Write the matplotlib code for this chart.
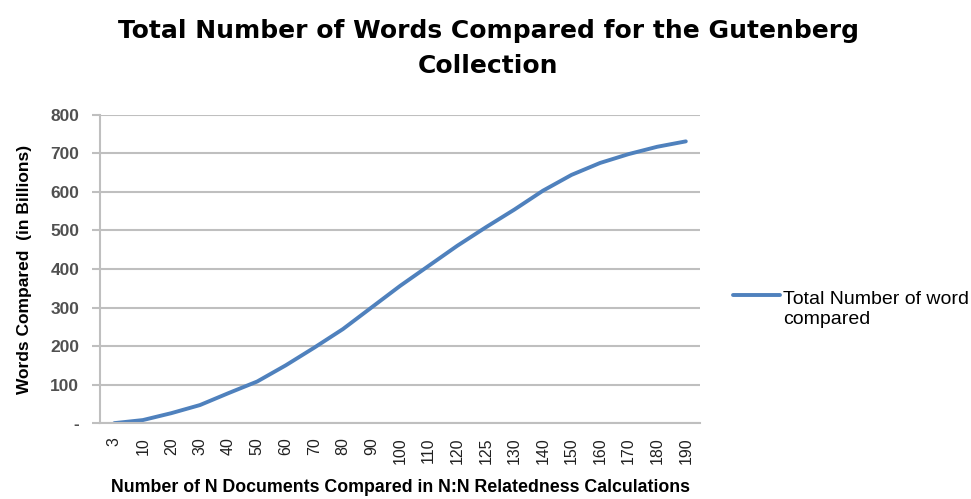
import matplotlib
matplotlib.use("Agg")
import matplotlib.pyplot as plt

# Total words compared for each N
n_docs = ["3", "10", "20", "30", "40", "50", "60", "70", "80", "90", "100",
          "110", "120", "125", "130", "140", "150", "160", "170", "180", "190"]
words_billions = [0, 8, 26, 47, 78, 108, 150, 196, 244, 300, 356,
                  408, 460, 508, 554, 603, 644, 675, 698, 717, 731]
y_ticks = [0, 100, 200, 300, 400, 500, 600, 700, 800]
y_tick_labels = ["-", "100", "200", "300", "400", "500", "600", "700", "800"]

BLUE = "#4F81BD"
GRID = "#BFBFBF"

fig = plt.figure(figsize=(9.71, 4.99), dpi=100)
ax = fig.add_axes([0.103, 0.152, 0.618, 0.618])

x = list(range(len(n_docs)))
ax.plot(x, words_billions, color=BLUE, lw=2.8, solid_capstyle="round",
        label="Total Number of word\ncompared")

ax.set_xlim(-0.5, len(n_docs) - 0.5)
ax.set_ylim(0, 800)
ax.set_yticks(y_ticks)
ax.set_yticklabels(y_tick_labels, fontsize=12.5, fontweight="bold",
                   color="#505050", family="Liberation Sans")
ax.set_xticks(x)
ax.set_xticklabels(n_docs, rotation=90, fontsize=11.5, family="Liberation Sans",
                   color="#202020")
ax.tick_params(axis="x", length=0, pad=10)
ax.tick_params(axis="y", length=6, color=GRID, width=1.5, pad=9)
ax.grid(axis="y", color=GRID, lw=1.5)
ax.set_axisbelow(True)
for side in ("top", "right"):
    ax.spines[side].set_visible(False)
for side in ("left", "bottom"):
    ax.spines[side].set_color(GRID)
    ax.spines[side].set_linewidth(1.5)

ax.set_xlabel("Number of N Documents Compared in N:N Relatedness Calculations",
              fontsize=12.8, fontweight="bold", family="Liberation Sans", labelpad=11)
ax.set_ylabel("Words Compared  (in Billions)", fontsize=12.5, fontweight="bold",
              family="Liberation Sans", labelpad=13)

fig.suptitle("Total Number of Words Compared for the Gutenberg\nCollection",
             x=0.503, y=0.962, fontsize=18, fontweight="bold", linespacing=1.6)

leg = fig.legend(loc="center left", bbox_to_anchor=(0.737, 0.38), frameon=False,
                 handlelength=2.4, handletextpad=0.15,
                 prop={"family": "Liberation Sans", "size": 14})
# Excel puts the legend key beside the first line of a wrapped label
key = leg.get_lines()[0]
key.set_ydata([v + 10 for v in key.get_ydata()])

fig.savefig("out.png", dpi=100)
